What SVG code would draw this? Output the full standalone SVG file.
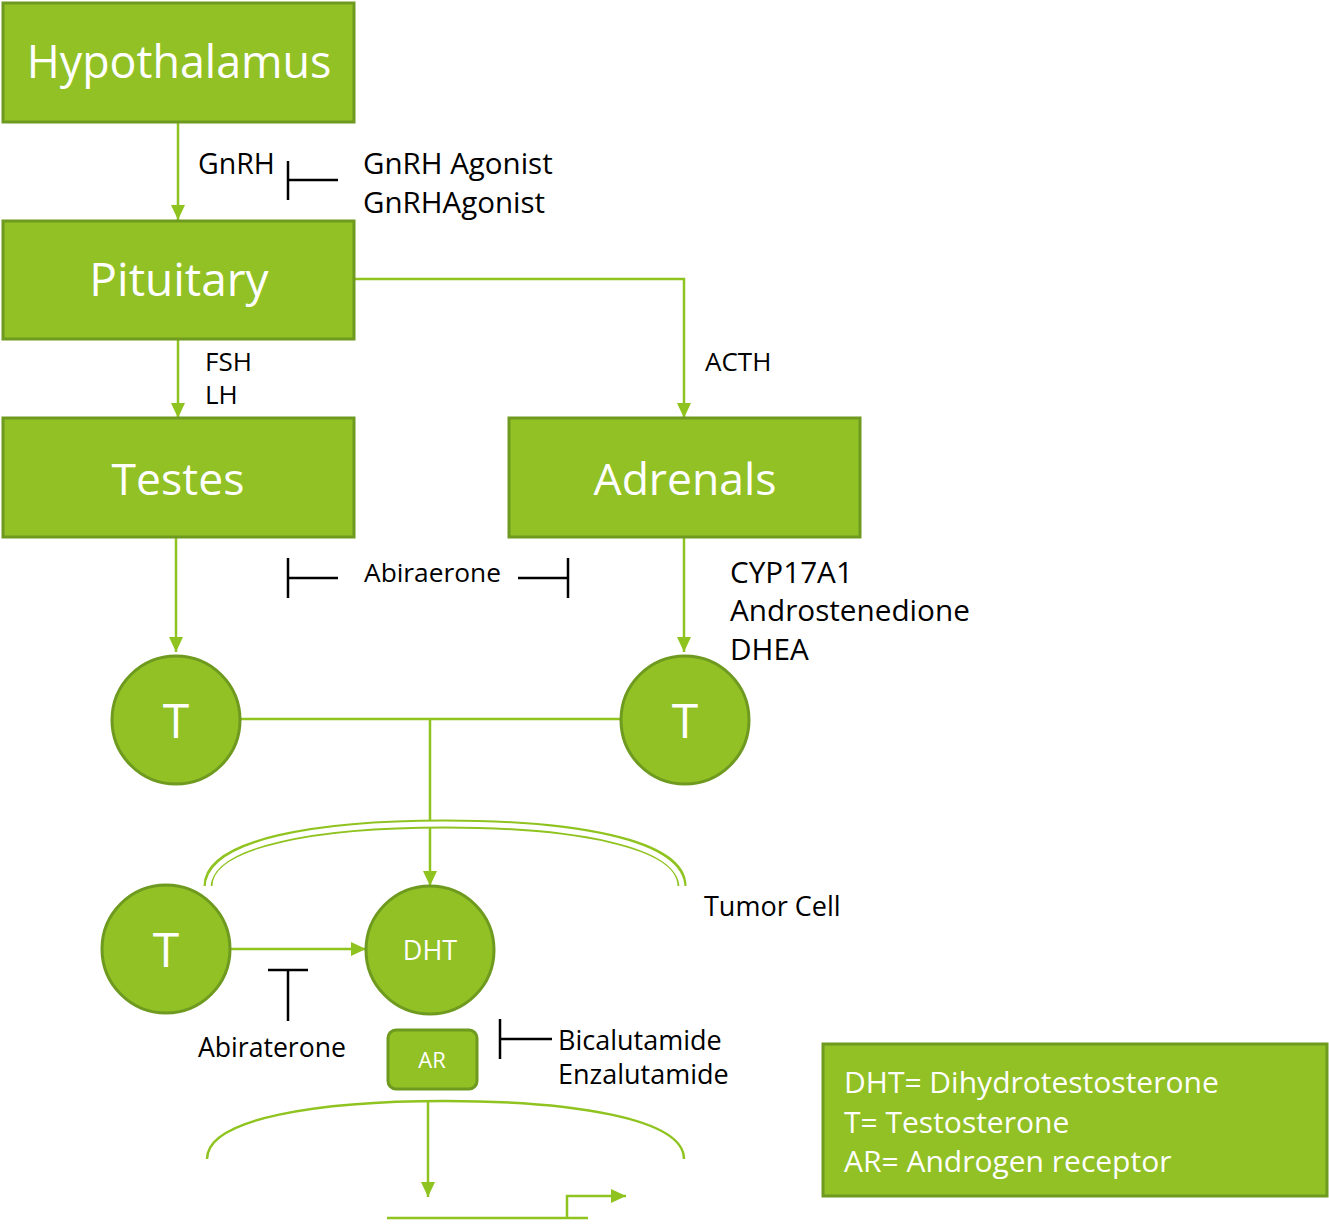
<svg xmlns="http://www.w3.org/2000/svg" width="1329" height="1225" viewBox="0 0 1329 1225">
<style>
.box{fill:#92c125;stroke:#6e9a1f;stroke-width:3}
.lbl{font-family:"Open Sans","Noto Sans",sans-serif;fill:#fff;text-anchor:middle}
.txt{font-family:"Open Sans","Noto Sans",sans-serif;fill:#000}
.leg{font-family:"Open Sans","Noto Sans",sans-serif;fill:#fff}
.con{fill:none;stroke:#8fc31f;stroke-width:2.5}
.inh{fill:none;stroke:#000;stroke-width:2.5}
</style>
<defs>
<marker id="arr" markerUnits="userSpaceOnUse" markerWidth="16" markerHeight="16" viewBox="0 0 16 16" refX="15" refY="8" orient="auto">
<path d="M0,1 L15,8 L0,15 z" fill="#8fc31f"/>
</marker>
</defs>
<rect width="1329" height="1225" fill="#fff"/>

<g id="connectors">
<path class="con" d="M178,122 V220" marker-end="url(#arr)"/>
<path class="con" d="M178,339 V418" marker-end="url(#arr)"/>
<path class="con" d="M354,279 H684 V418" marker-end="url(#arr)"/>
<path class="con" d="M176,537 V652" marker-end="url(#arr)"/>
<path class="con" d="M684,537 V652" marker-end="url(#arr)"/>
<path class="con" d="M240,719 H621"/>
<path class="con" d="M430,719 V886" marker-end="url(#arr)"/>
<path class="con" d="M230,949 H366" marker-end="url(#arr)"/>
<path class="con" d="M428,1100 V1197" marker-end="url(#arr)"/>
<path class="con" d="M387,1218 H588 M567,1218 V1196 H626" marker-end="url(#arr)"/>
</g>

<g id="membranes">
<path d="M208,886 C208,842 320,824 445,824 C570,824 682,842 682,886" fill="none" stroke="#8fc31f" stroke-width="9"/>
<path d="M208,888 C208,842 320,824 445,824 C570,824 682,842 682,888" fill="none" stroke="#fff" stroke-width="5"/>
<path class="con" d="M207,1159 C207,1118 320,1101 445,1101 C570,1101 684,1118 684,1159"/>
</g>

<g id="inhibitors">
<path class="inh" d="M288,161 V200 M288,180 H338"/>
<path class="inh" d="M288,558 V598 M288,578 H338"/>
<path class="inh" d="M518,578 H568 M568,558 V598"/>
<path class="inh" d="M268,970 H308 M288,970 V1021"/>
<path class="inh" d="M500,1019 V1059 M500,1039 H552"/>
</g>

<g id="hypothalamus"><rect class="box" x="3" y="3" width="351" height="119"/><text class="lbl" x="179" y="78" font-size="44.8">Hypothalamus</text></g>
<g id="pituitary"><rect class="box" x="3" y="221" width="351" height="118"/><text class="lbl" x="179" y="296" font-size="46">Pituitary</text></g>
<g id="testes"><rect class="box" x="3" y="418" width="351" height="119"/><text class="lbl" x="178" y="495" font-size="44.5">Testes</text></g>
<g id="adrenals"><rect class="box" x="509" y="418" width="351" height="119"/><text class="lbl" x="685" y="495" font-size="44.5">Adrenals</text></g>

<g id="t-testes"><circle class="box" cx="176" cy="720" r="64"/><text class="lbl" x="176" y="738" font-size="48">T</text></g>
<g id="t-adrenals"><circle class="box" cx="685" cy="720" r="64"/><text class="lbl" x="685" y="738" font-size="48">T</text></g>
<g id="t-tumor"><circle class="box" cx="166" cy="949" r="64"/><text class="lbl" x="166" y="967" font-size="48">T</text></g>
<g id="dht"><circle class="box" cx="430" cy="950" r="64"/><text class="lbl" x="430" y="960" font-size="27">DHT</text></g>
<g id="ar"><rect class="box" x="388" y="1030" width="89" height="59" rx="8"/><text class="lbl" x="432" y="1068" font-size="22">AR</text></g>

<g id="legend"><rect class="box" x="823" y="1044" width="504" height="152"/>
<text class="leg" x="844" y="1093" font-size="30">DHT= Dihydrotestosterone</text>
<text class="leg" x="844" y="1133" font-size="30">T= Testosterone</text>
<text class="leg" x="844" y="1172" font-size="30">AR= Androgen receptor</text>
</g>

<g id="labels">
<text class="txt" x="198" y="174" font-size="28.5">GnRH</text>
<text class="txt" x="363" y="174" font-size="29.5">GnRH Agonist</text>
<text class="txt" x="363" y="213" font-size="29.5">GnRHAgonist</text>
<text class="txt" x="205" y="371" font-size="26">FSH</text>
<text class="txt" x="205" y="404" font-size="26">LH</text>
<text class="txt" x="705" y="371" font-size="26">ACTH</text>
<text class="txt" x="364" y="582" font-size="26.3">Abiraerone</text>
<text class="txt" x="730" y="583" font-size="29.7">CYP17A1</text>
<text class="txt" x="730" y="621" font-size="29.7">Androstenedione</text>
<text class="txt" x="730" y="660" font-size="29.7">DHEA</text>
<text class="txt" x="704" y="916" font-size="27">Tumor Cell</text>
<text class="txt" x="198" y="1057" font-size="26.6">Abiraterone</text>
<text class="txt" x="558" y="1050" font-size="27">Bicalutamide</text>
<text class="txt" x="558" y="1084" font-size="27">Enzalutamide</text>
</g>
</svg>
